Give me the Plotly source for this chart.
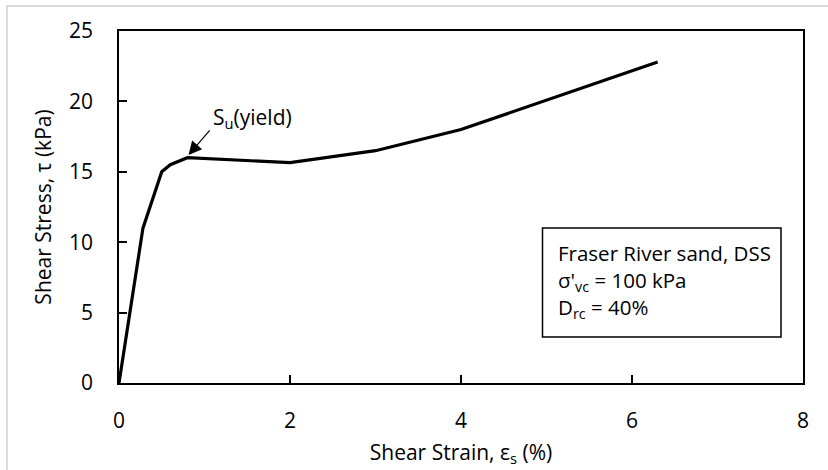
import plotly.graph_objects as go

strain = [0, 0.28, 0.5, 0.6, 0.8, 2.0, 3.0, 4.0, 6.3]
stress = [0, 11.0, 15.0, 15.5, 16.0, 15.65, 16.5, 18.0, 22.8]

x_ticks = [0, 2, 4, 6, 8]
y_ticks = [0, 5, 10, 15, 20, 25]

FONT = "Open Sans"
W, H = 828, 470
L, R, T, B = 119, 803, 31, 383


def px(xp):
    return (xp - L) / (R - L)


def py(yp):
    return (B - yp) / (B - T)


fig = go.Figure()
fig.add_trace(go.Scatter(x=strain, y=stress, mode="lines",
                         line=dict(color="black", width=3.2), showlegend=False,
                         hoverinfo="skip"))

axis_common = dict(showgrid=False, zeroline=False, showline=True, linecolor="black",
                   linewidth=1.5, mirror=True, ticks="inside", ticklen=8, tickwidth=1.5,
                   tickcolor="black", tickfont=dict(family=FONT, size=21, color="black"),
                   automargin=False)

fig.update_xaxes(range=[0, 8], tickvals=x_ticks, ticklabelstandoff=18,
                 title=dict(text="Shear Strain, ε<sub>s</sub> (%)", standoff=12,
                            font=dict(family=FONT, size=21, color="black")),
                 **axis_common)
fig.update_yaxes(range=[0, 25], tickvals=y_ticks, ticklabelstandoff=20,
                 title=dict(text="Shear Stress, τ (kPa)", standoff=12,
                            font=dict(family=FONT, size=21, color="black")),
                 **axis_common)

shapes = [
    # outer chart border
    dict(type="rect", xref="paper", yref="paper", x0=px(7), x1=px(832), y0=py(478), y1=py(6),
         line=dict(color="#d0d0d0", width=1.5), layer="below"),
    # text box
    dict(type="rect", xref="paper", yref="paper", x0=px(542.5), x1=px(781), y0=py(337), y1=py(228),
         line=dict(color="black", width=1.5), fillcolor="white"),
]

annotations = [
    dict(x=0.813, y=16.2, ax=1.076, ay=18.05, xref="x", yref="y", axref="x", ayref="y",
         text="", showarrow=True, arrowhead=2, arrowsize=2.2, arrowwidth=1.2, arrowcolor="black"),
    dict(x=px(211), y=py(118), xref="paper", yref="paper", xanchor="left", yanchor="middle",
         text="S<sub>u</sub>(yield)", showarrow=False, font=dict(family=FONT, size=21, color="black")),
    dict(x=px(556), y=py(252.5), xref="paper", yref="paper", xanchor="left", yanchor="middle",
         text="Fraser River sand, DSS", showarrow=False, font=dict(family=FONT, size=20.5, color="black")),
    dict(x=px(556), y=py(280.5), xref="paper", yref="paper", xanchor="left", yanchor="middle",
         text="σ'<sub>vc</sub> = 100 kPa", showarrow=False, font=dict(family=FONT, size=20.5, color="black")),
    dict(x=px(556), y=py(307.5), xref="paper", yref="paper", xanchor="left", yanchor="middle",
         text="D<sub>rc</sub> = 40%", showarrow=False, font=dict(family=FONT, size=20.5, color="black")),
]

fig.update_layout(width=W, height=H, margin=dict(l=L, r=W - R, t=T, b=H - B),
                  paper_bgcolor="white", plot_bgcolor="white",
                  shapes=shapes, annotations=annotations, showlegend=False,
                  font=dict(family=FONT, color="black"))

fig.write_html("out.html")
